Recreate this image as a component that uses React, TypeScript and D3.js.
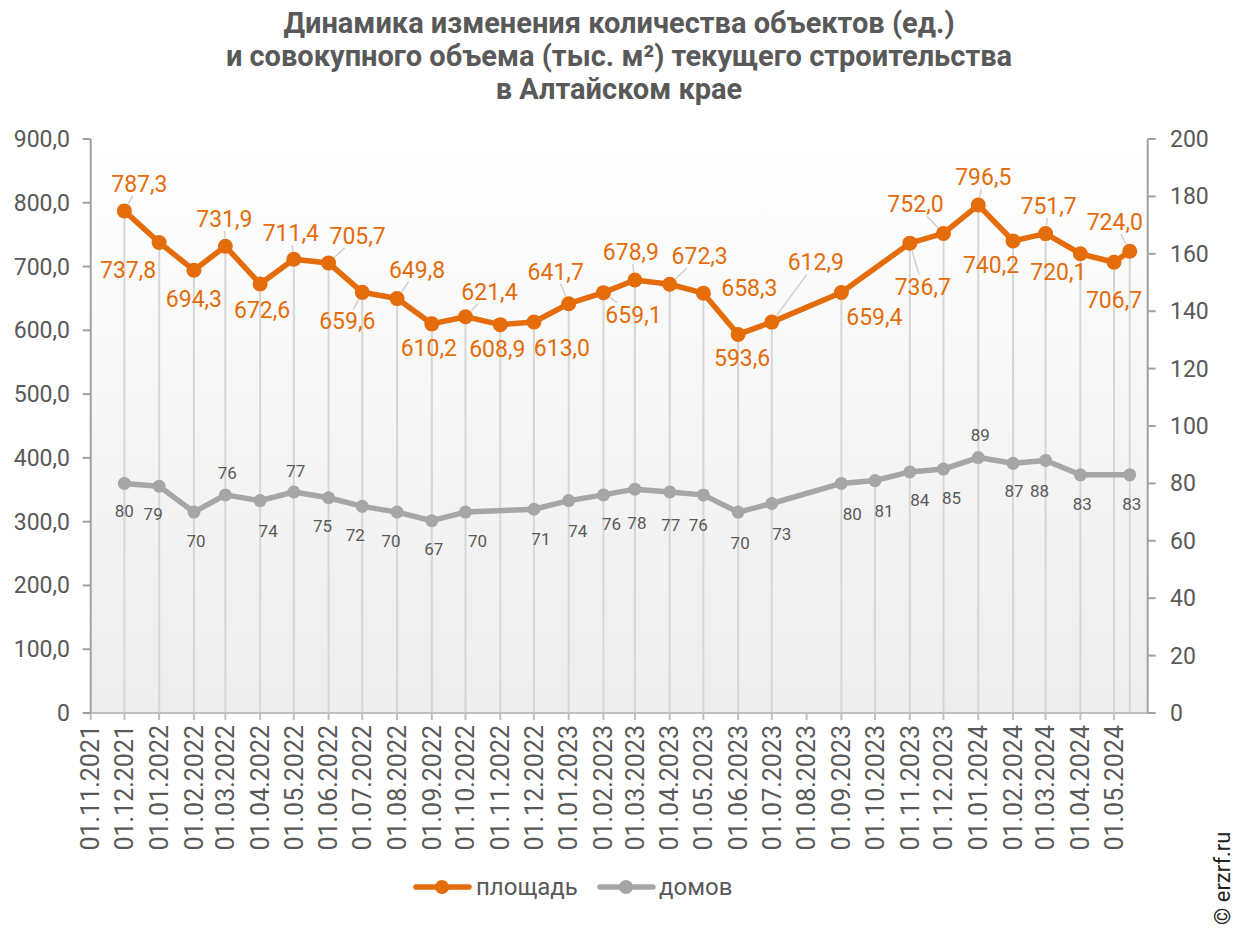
import React from "react";
import * as d3 from "d3";

// ---------- DATA ----------
const areaDates = [
  "2021-12-01", "2022-01-01", "2022-02-01", "2022-03-01", "2022-04-01", "2022-05-01",
  "2022-06-01", "2022-07-01", "2022-08-01", "2022-09-01", "2022-10-01", "2022-11-01",
  "2022-12-01", "2023-01-01", "2023-02-01", "2023-03-01", "2023-04-01", "2023-05-01",
  "2023-06-01", "2023-07-01", "2023-09-01", "2023-11-01", "2023-12-01", "2024-01-01",
  "2024-02-01", "2024-03-01", "2024-04-01", "2024-05-01", "2024-05-15",
];
const areaValues = [
  787.3, 737.8, 694.3, 731.9, 672.6, 711.4, 705.7, 659.6, 649.8, 610.2, 621.4, 608.9,
  613.0, 641.7, 659.1, 678.9, 672.3, 658.3, 593.6, 612.9, 659.4, 736.7, 752.0, 796.5,
  740.2, 751.7, 720.1, 706.7, 724.0,
];
const houseDates = [
  "2021-12-01", "2022-01-01", "2022-02-01", "2022-03-01", "2022-04-01", "2022-05-01",
  "2022-06-01", "2022-07-01", "2022-08-01", "2022-09-01", "2022-10-01",
  "2022-12-01", "2023-01-01", "2023-02-01", "2023-03-01", "2023-04-01", "2023-05-01",
  "2023-06-01", "2023-07-01", "2023-09-01", "2023-10-01", "2023-11-01", "2023-12-01",
  "2024-01-01", "2024-02-01", "2024-03-01", "2024-04-01", "2024-05-15",
];
const houseValues = [
  80, 79, 70, 76, 74, 77, 75, 72, 70, 67, 70,
  71, 74, 76, 78, 77, 76, 70, 73, 80, 81, 84, 85, 89, 87, 88, 83, 83,
];
const leftTicks = [0, 100, 200, 300, 400, 500, 600, 700, 800, 900];
const rightTicks = [0, 20, 40, 60, 80, 100, 120, 140, 160, 180, 200];
const axisStart = "2021-11-01";
const axisEnd = "2024-05-31";
const seriesNames = ["площадь", "домов"];
const titleLines = [
  "Динамика изменения количества объектов (ед.)",
  "и совокупного объема (тыс. м²) текущего строительства",
  "в Алтайском крае",
];

// ---------- LAYOUT (label placement) ----------
const areaLabelOffsets: [number, number, number][] = [
  [15, -27, 1], [-31, 28, 0], [0, 29, 1], [-1, -27, 1], [2, 26, 0], [-3, -26, 1],
  [29, -27, 1], [-15, 29, 1], [20, -29, 1], [-3, 24, 0], [24, -25, 1], [-3, 24, 0],
  [28, 26, 0], [-13, -32, 1], [30, 22, 1], [-4, -28, 1], [30, -28, 1], [46, -5, 0],
  [4, 24, 0], [44, -60, 1], [33, 25, 0], [13, 44, 1], [-28, -29, 1], [5, -28, 1],
  [-22, 24, 0], [3, -28, 1], [-22, 18, 0], [0, 38, 1], [-15, -29, 1],
];
const houseLabelOffsets: [number, number][] = [
  [0, 28], [-6, 28], [2, 29], [2, -22], [8, 30], [2, -21], [-6, 28], [-7, 29], [-6, 29],
  [2, 28], [12, 29], [7, 30], [9, 30], [8, 29], [2, 34], [1, 33], [-5, 30], [2, 31],
  [10, 31], [11, 31], [9, 31], [10, 28], [8, 29], [2, -23], [1, 28], [-6, 31], [2, 29], [2, 29],
];

const W = 1237;
const H = 930;
const M = { left: 90.7, right: 1147.7, top: 139, bottom: 713 };
const ORANGE = "#E46C0A";
const GREY = "#A6A6A6";
const TEXT = "#595959";
const FONT = "Roboto, 'Noto Sans', sans-serif";

const parse = (s: string) => {
  const [y, m, d] = s.split("-").map(Number);
  return new Date(Date.UTC(y, m - 1, d));
};

const fmtLeft = (v: number) => (v === 0 ? "0" : d3.format(".1f")(v).replace(".", ","));
const fmtVal = (v: number) => d3.format(".1f")(v).replace(".", ",");

export default function App() {
  const x = d3.scaleUtc().domain([parse(axisStart), parse(axisEnd)]).range([M.left, M.right]);
  const yL = d3.scaleLinear().domain([0, 900]).range([M.bottom, M.top]);
  const yR = d3.scaleLinear().domain([0, 200]).range([M.bottom, M.top]);

  const area = areaDates.map((d, i) => ({ date: parse(d), v: areaValues[i] }));
  const houses = houseDates.map((d, i) => ({ date: parse(d), v: houseValues[i] }));

  const monthTicks = d3.utcMonth.range(parse(axisStart), d3.utcDay.offset(parse(axisEnd), 1));
  const fmtDate = d3.utcFormat("%d.%m.%Y");

  // drop lines: for each date, from highest point to axis
  const tops = new Map<number, number>();
  area.forEach((p) => {
    const k = +p.date;
    const y = yL(p.v);
    tops.set(k, Math.min(tops.get(k) ?? Infinity, y));
  });
  houses.forEach((p) => {
    const k = +p.date;
    const y = yR(p.v);
    tops.set(k, Math.min(tops.get(k) ?? Infinity, y));
  });
  const drops = Array.from(tops.entries());

  const lineArea = d3.line<{ date: Date; v: number }>().x((d) => x(d.date)).y((d) => yL(d.v));
  const lineHouse = d3.line<{ date: Date; v: number }>().x((d) => x(d.date)).y((d) => yR(d.v));

  const leader = (px: number, py: number, lx: number, ly: number, hw: number, hh: number) => {
    const dx = lx - px;
    const dy = ly - py;
    const len = Math.hypot(dx, dy);
    if (len < 1) return null;
    const ux = dx / len;
    const uy = dy / len;
    const tBox = Math.min(dx !== 0 ? hw / Math.abs(dx) : Infinity, dy !== 0 ? hh / Math.abs(dy) : Infinity);
    const ex = lx - dx * tBox;
    const ey = ly - dy * tBox;
    const sx = px + ux * 8;
    const sy = py + uy * 8;
    if ((ex - sx) * ux + (ey - sy) * uy < 2) return null;
    return { x1: sx, y1: sy, x2: ex, y2: ey };
  };

  return (
    <svg width={W} height={H} style={{ position: "absolute", left: 0, top: 0, background: "#fff" }}>
      <defs>
        <linearGradient id="bg" x1="0" y1="0" x2="0" y2="1">
          <stop offset="0%" stopColor="#FFFFFF" />
          <stop offset="100%" stopColor="#EDEDED" />
        </linearGradient>
      </defs>
      <rect x={0} y={0} width={W} height={H} fill="#fff" />
      {/* title */}
      <g fontFamily={FONT} fontWeight={700} fontSize={29} fill={TEXT} textAnchor="middle">
        {titleLines.map((t, i) => (
          <text key={i} x={619} y={33 + i * 33}>
            {t}
          </text>
        ))}
      </g>
      {/* plot background */}
      <rect x={M.left} y={M.top} width={M.right - M.left} height={M.bottom - M.top} fill="url(#bg)" />

      {/* drop lines */}
      {drops.map(([k, y]) => (
        <line key={k} x1={x(new Date(k))} x2={x(new Date(k))} y1={y} y2={M.bottom} stroke="#D6D6D6" strokeWidth={2} />
      ))}

      {/* axes */}
      <line x1={M.left} x2={M.right} y1={M.bottom} y2={M.bottom} stroke="#BFBFBF" strokeWidth={2} />
      {monthTicks.map((t, i) => (
        <g key={i}>
          <line x1={x(t)} x2={x(t)} y1={M.bottom} y2={M.bottom + 7} stroke="#BFBFBF" strokeWidth={2} />
          <text
            transform={`translate(${x(t)},${M.bottom + 12}) rotate(-90)`}
            textAnchor="end"
            dy="0.35em"
            fontFamily={FONT}
            fontSize={25}
            fill={TEXT}
          >
            {fmtDate(t)}
          </text>
        </g>
      ))}
      <line x1={M.left} x2={M.left} y1={M.top} y2={M.bottom} stroke="#A0A0A0" strokeWidth={2} />
      {leftTicks.map((v) => (
        <g key={v}>
          <line x1={M.left - 8} x2={M.left} y1={yL(v)} y2={yL(v)} stroke="#A0A0A0" strokeWidth={2} />
          <text x={70} y={yL(v)} dy="0.35em" textAnchor="end" fontFamily={FONT} fontSize={23} fill={TEXT}>
            {fmtLeft(v)}
          </text>
        </g>
      ))}
      <line x1={M.right} x2={M.right} y1={M.top} y2={M.bottom} stroke="#A0A0A0" strokeWidth={2} />
      {rightTicks.map((v) => (
        <g key={v}>
          <line x1={M.right} x2={M.right + 8} y1={yR(v)} y2={yR(v)} stroke="#A0A0A0" strokeWidth={2} />
          <text x={1170} y={yR(v)} dy="0.35em" textAnchor="start" fontFamily={FONT} fontSize={23} fill={TEXT}>
            {v}
          </text>
        </g>
      ))}

      {/* leader lines */}
      {area.map((p, i) => {
        const [dx, dy, show] = areaLabelOffsets[i];
        if (!show) return null;
        const px = x(p.date);
        const py = yL(p.v);
        const l = leader(px, py, px + dx, py + dy, 30, 12);
        return l ? <line key={"la" + i} {...l} stroke="#D0D0D0" strokeWidth={1.5} /> : null;
      })}

      {/* series */}
      <path d={lineHouse(houses) || ""} fill="none" stroke={GREY} strokeWidth={5.5} strokeLinejoin="round" />
      {houses.map((p, i) => (
        <circle key={"h" + i} cx={x(p.date)} cy={yR(p.v)} r={6.5} fill={GREY} />
      ))}
      <path d={lineArea(area) || ""} fill="none" stroke={ORANGE} strokeWidth={5.5} strokeLinejoin="round" />
      {area.map((p, i) => (
        <circle key={"a" + i} cx={x(p.date)} cy={yL(p.v)} r={7.5} fill={ORANGE} />
      ))}

      {/* labels */}
      {area.map((p, i) => {
        const [dx, dy] = areaLabelOffsets[i];
        return (
          <text
            key={"ta" + i}
            x={x(p.date) + dx}
            y={yL(p.v) + dy}
            dy="0.35em"
            textAnchor="middle"
            fontFamily={FONT}
            fontSize={23}
            fill={ORANGE}
          >
            {fmtVal(p.v)}
          </text>
        );
      })}
      {houses.map((p, i) => {
        const [dx, dy] = houseLabelOffsets[i];
        return (
          <text
            key={"th" + i}
            x={x(p.date) + dx}
            y={yR(p.v) + dy}
            dy="0.35em"
            textAnchor="middle"
            fontFamily={FONT}
            fontSize={17}
            fill={TEXT}
          >
            {p.v}
          </text>
        );
      })}

      {/* legend */}
      <g fontFamily={FONT} fontSize={24} fill={TEXT}>
        <line x1={416} x2={469} y1={887} y2={887} stroke={ORANGE} strokeWidth={5.5} strokeLinecap="round" />
        <circle cx={442} cy={887} r={7} fill={ORANGE} />
        <text x={476} y={887} dy="0.35em">{seriesNames[0]}</text>
        <line x1={600} x2={653} y1={887} y2={887} stroke={GREY} strokeWidth={5.5} strokeLinecap="round" />
        <circle cx={626} cy={887} r={7} fill={GREY} />
        <text x={659} y={887} dy="0.35em">{seriesNames[1]}</text>
      </g>

      {/* copyright */}
      <text transform="translate(1230,925) rotate(-90)" fontFamily={FONT} fontSize={22} fill="#222">
        © erzrf.ru
      </text>
    </svg>
  );
}
